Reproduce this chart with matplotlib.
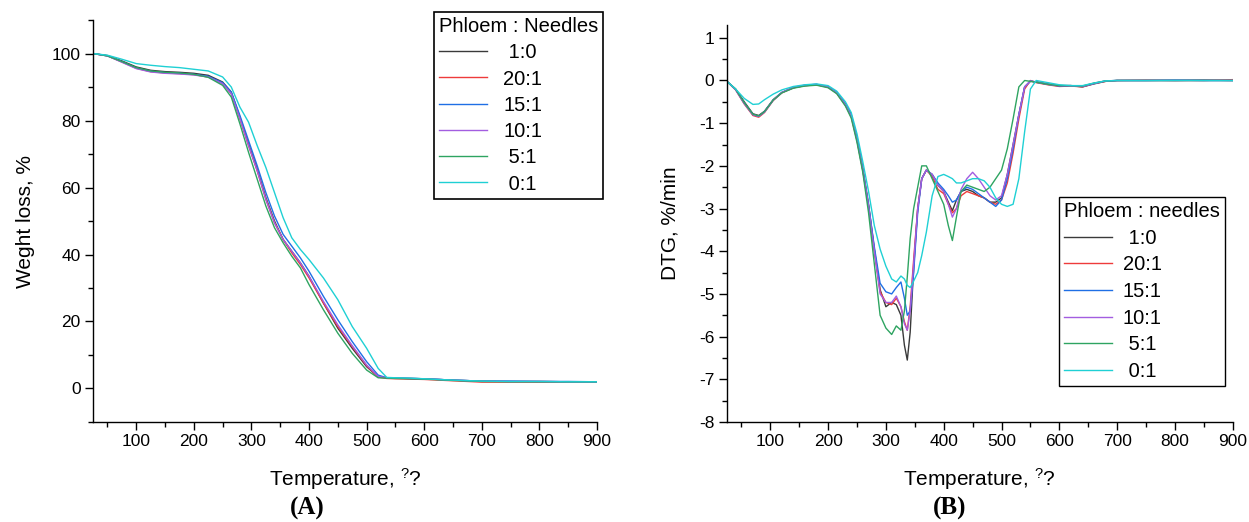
import matplotlib
matplotlib.use('Agg')
import matplotlib.pyplot as plt
from matplotlib.ticker import MultipleLocator

plt.rcParams['font.family'] = ['Liberation Sans', 'DejaVu Sans']
plt.rcParams['mathtext.default'] = 'regular'
plt.rcParams['axes.unicode_minus'] = False

# ---- data ----
labels = ['1:0', '20:1', '15:1', '10:1', '5:1', '0:1']
legend_left = [' 1:0', '20:1', '15:1', '10:1', ' 5:1', ' 0:1']
legend_right = [' 1:0', '20:1', '15:1', '10:1', ' 5:1', ' 0:1']
colors = ['#3a3a3a', '#ee3b3b', '#1f6fe5', '#a35de0', '#2ea461', '#1fd0d4']

# TG, weight %
tg_temp = [25, 50, 75, 100, 125, 150, 175, 200, 225, 250, 265, 280, 295, 310,
           325, 340, 355, 370, 385, 400, 425, 450, 475, 500, 520, 535, 550,
           575, 600, 650, 700, 750, 800, 850, 900]
tg_1_0 = [100, 99.4, 97.8, 96.0, 95.0, 94.6, 94.4, 94.1, 93.5, 91.5, 88.5,
          81.0, 73.0, 65.5, 57.0, 50.0, 44.5, 41.0, 37.5, 33.5, 25.5, 18.0,
          12.0, 6.5, 3.5, 3.2, 3.1, 3.0, 2.9, 2.5, 2.2, 2.1, 2.1, 2.0, 2.0]
tg_20_1 = [100, 99.3, 97.5, 95.6, 94.6, 94.2, 94.0, 93.7, 93.0, 91.0, 88.0,
           80.5, 72.5, 65.0, 56.5, 49.5, 44.5, 40.5, 37.0, 33.0, 25.5, 18.5,
           12.5, 6.8, 3.4, 3.0, 2.9, 2.8, 2.7, 2.3, 1.9, 1.9, 1.9, 1.9, 1.9]
tg_15_1 = [100, 99.3, 97.6, 95.7, 94.7, 94.3, 94.1, 93.8, 93.2, 91.3, 88.5,
           81.5, 74.0, 66.5, 58.5, 51.5, 46.0, 42.5, 39.0, 35.0, 27.5, 20.5,
           14.0, 8.0, 4.0, 3.2, 3.1, 3.0, 2.9, 2.5, 2.2, 2.2, 2.1, 2.1, 2.0]
tg_10_1 = [100, 99.3, 97.4, 95.5, 94.5, 94.1, 93.9, 93.6, 93.0, 91.0, 88.0,
           80.5, 72.5, 65.0, 56.5, 49.5, 44.5, 41.0, 37.5, 33.5, 26.0, 19.0,
           12.8, 7.0, 3.6, 3.2, 3.1, 3.0, 2.9, 2.5, 2.2, 2.1, 2.1, 2.0, 2.0]
tg_5_1 = [100, 99.3, 97.6, 95.8, 94.8, 94.4, 94.2, 93.8, 92.9, 90.5, 87.0,
          79.0, 70.5, 62.5, 54.5, 48.0, 43.5, 39.5, 36.0, 31.0, 23.5, 16.5,
          10.5, 5.5, 3.2, 3.1, 3.0, 2.9, 2.8, 2.4, 2.1, 2.0, 2.0, 2.0, 2.0]
tg_0_1 = [100, 99.5, 98.3, 97.0, 96.5, 96.1, 95.8, 95.3, 94.8, 93.0, 90.0,
          84.0, 79.5, 72.5, 66.0, 58.5, 51.0, 45.0, 41.5, 38.5, 33.0, 26.5,
          18.5, 12.0, 6.0, 3.3, 3.2, 3.1, 2.9, 2.5, 2.2, 2.1, 2.1, 2.0, 2.0]

# DTG, %/min
dtg_temp = [25, 40, 55, 70, 80, 90, 105, 120, 140, 160, 180, 200, 215, 230,
            240, 250, 260, 270, 280, 290, 300, 310, 318, 326, 332, 337, 342,
            348, 355, 362, 370, 380, 390, 400, 408, 415, 422, 430, 440, 450,
            460, 470, 480, 490, 500, 510, 520, 530, 540, 550, 560, 580, 600,
            620, 640, 660, 680, 700, 750, 800, 850, 900]
dtg_1_0 = [-0.02, -0.2, -0.5, -0.78, -0.82, -0.72, -0.45, -0.28, -0.17, -0.12,
           -0.1, -0.15, -0.28, -0.55, -0.8, -1.35, -2.05, -2.9, -3.95, -4.9,
           -5.3, -5.2, -5.25, -5.5, -6.2, -6.55, -5.9, -4.4, -3.0, -2.3, -2.1,
           -2.2, -2.45, -2.6, -2.85, -3.05, -2.8, -2.6, -2.55, -2.6, -2.7,
           -2.75, -2.85, -2.85, -2.75, -2.2, -1.5, -0.8, -0.15, -0.02, -0.03,
           -0.08, -0.12, -0.12, -0.15, -0.08, -0.02, 0.0, 0.0, 0.0, 0.01, 0.0]
dtg_20_1 = [-0.02, -0.22, -0.55, -0.82, -0.86, -0.75, -0.47, -0.29, -0.17,
            -0.12, -0.1, -0.16, -0.3, -0.58, -0.85, -1.4, -2.1, -2.95, -4.0,
            -4.95, -5.2, -5.25, -5.1, -5.3, -5.65, -5.85, -5.3, -4.2, -3.0,
            -2.3, -2.1, -2.25, -2.55, -2.65, -2.9, -3.1, -3.0, -2.7, -2.6,
            -2.65, -2.7, -2.75, -2.85, -2.9, -2.8, -2.4, -1.7, -0.9, -0.2,
            0.0, -0.05, -0.1, -0.14, -0.13, -0.15, -0.07, -0.02, 0.0, 0.01,
            0.0, 0.0, 0.02]
dtg_15_1 = [-0.02, -0.21, -0.53, -0.8, -0.84, -0.73, -0.46, -0.28, -0.16,
            -0.11, -0.09, -0.15, -0.28, -0.56, -0.82, -1.38, -2.08, -2.92,
            -3.9, -4.75, -4.95, -5.0, -4.85, -4.72, -5.1, -5.5, -5.4, -4.5,
            -3.1, -2.3, -2.1, -2.2, -2.4, -2.55, -2.7, -2.85, -2.8, -2.6, -2.5,
            -2.55, -2.65, -2.75, -2.85, -2.95, -2.8, -2.3, -1.6, -0.8, -0.15,
            -0.01, -0.04, -0.09, -0.13, -0.12, -0.14, -0.07, -0.01, 0.0, 0.0,
            0.01, 0.0, 0.0]
dtg_10_1 = [-0.02, -0.21, -0.54, -0.8, -0.84, -0.74, -0.46, -0.28, -0.16,
            -0.11, -0.09, -0.15, -0.29, -0.57, -0.83, -1.4, -2.1, -2.95, -4.0,
            -5.0, -5.2, -5.2, -5.05, -5.3, -5.7, -5.85, -5.4, -4.3, -3.0, -2.3,
            -2.1, -2.2, -2.45, -2.6, -2.9, -3.2, -3.0, -2.55, -2.3, -2.15,
            -2.3, -2.5, -2.7, -2.8, -2.7, -2.2, -1.5, -0.8, -0.15, -0.01,
            -0.04, -0.09, -0.12, -0.12, -0.14, -0.07, -0.01, 0.0, 0.0, 0.0,
            0.0, 0.0]
dtg_5_1 = [-0.02, -0.2, -0.52, -0.79, -0.83, -0.73, -0.46, -0.29, -0.18,
           -0.13, -0.11, -0.17, -0.31, -0.6, -0.88, -1.45, -2.15, -3.1, -4.3,
           -5.5, -5.8, -5.95, -5.75, -5.85, -5.4, -4.6, -3.7, -3.0, -2.5, -2.0,
           -2.0, -2.3, -2.6, -2.9, -3.4, -3.75, -3.2, -2.6, -2.45, -2.5, -2.55,
           -2.6, -2.5, -2.3, -2.1, -1.6, -0.9, -0.15, 0.0, -0.02, -0.04, -0.09,
           -0.12, -0.12, -0.13, -0.06, -0.01, 0.0, 0.0, 0.0, 0.0, 0.0]
dtg_0_1 = [-0.02, -0.2, -0.42, -0.56, -0.55, -0.45, -0.32, -0.22, -0.14,
           -0.1, -0.08, -0.12, -0.25, -0.5, -0.75, -1.25, -1.9, -2.6, -3.4,
           -3.95, -4.35, -4.65, -4.72, -4.58, -4.65, -4.8, -4.85, -4.7, -4.5,
           -4.1, -3.55, -2.7, -2.25, -2.2, -2.25, -2.3, -2.4, -2.4, -2.35,
           -2.3, -2.3, -2.35, -2.5, -2.75, -2.9, -2.95, -2.9, -2.3, -1.2, -0.2,
           0.0, -0.05, -0.1, -0.12, -0.12, -0.06, -0.01, 0.0, 0.0, 0.0, 0.0,
           0.0]

tg_series = [tg_1_0, tg_20_1, tg_15_1, tg_10_1, tg_5_1, tg_0_1]
dtg_series = [dtg_1_0, dtg_20_1, dtg_15_1, dtg_10_1, dtg_5_1, dtg_0_1]

fig = plt.figure(figsize=(12.49, 5.22), dpi=100)
ax1 = fig.add_axes([0.0745, 0.1916, 0.4035, 0.770])
ax2 = fig.add_axes([0.582, 0.1916, 0.405, 0.7605])

for i in range(len(labels)):
    ax1.plot(tg_temp, tg_series[i], color=colors[i], lw=1.0,
             label=legend_left[i])
    ax2.plot(dtg_temp, dtg_series[i], color=colors[i], lw=1.0,
             label=legend_right[i])


def style_axis(ax):
    for side in ['top', 'right']:
        ax.spines[side].set_visible(False)
    for side in ['left', 'bottom']:
        ax.spines[side].set_linewidth(1.0)
    ax.tick_params(which='major', direction='out', length=6, width=1.0,
                   labelsize=12.5, pad=3)
    ax.tick_params(which='minor', direction='out', length=3.5, width=1.0)
    ax.set_xlim(25, 900)
    ax.xaxis.set_minor_locator(MultipleLocator(50))
    ax.set_xticks(range(100, 1000, 100))
    ax.set_xlabel('Temperature, $^{?}$?', fontsize=15, labelpad=12)


style_axis(ax1)
ax1.set_ylim(-10, 110)
ax1.set_yticks(range(0, 101, 20))
ax1.yaxis.set_minor_locator(MultipleLocator(10))
ax1.set_ylabel('Weght loss, %', fontsize=15, labelpad=12)

style_axis(ax2)
ax2.set_ylim(-8, 1.3)
ax2.set_yticks(range(-8, 2))
ax2.yaxis.set_minor_locator(MultipleLocator(0.5))
ax2.set_ylabel('DTG, %/min', fontsize=15, labelpad=14)

leg1 = ax1.legend(title='Phloem : Needles', loc='upper right',
                  bbox_to_anchor=(0.4828, 0.977), bbox_transform=fig.transFigure,
                  fontsize=14.5, title_fontsize=14.5, frameon=True,
                  fancybox=False, framealpha=1, edgecolor='black',
                  borderpad=0.25, labelspacing=0.36, handlelength=2.4,
                  handletextpad=0.8, borderaxespad=0)
leg1._legend_box.align = 'left'
leg1.get_frame().set_linewidth(1.2)

leg2 = ax2.legend(title='Phloem : needles', loc='upper right',
                  bbox_to_anchor=(0.9808, 0.6226), bbox_transform=fig.transFigure,
                  fontsize=14.5, title_fontsize=14.5, frameon=True,
                  fancybox=False, framealpha=1, edgecolor='black',
                  borderpad=0.25, labelspacing=0.38, handlelength=2.4,
                  handletextpad=0.5, borderaxespad=0)
leg2._legend_box.align = 'left'
leg2.get_frame().set_linewidth(1.0)

fig.text(307 / 1249, 1 - 508 / 522, '(A)', ha='center', va='center',
         family='Liberation Serif', fontweight='bold', fontsize=18)
fig.text(950 / 1249, 1 - 508 / 522, '(B)', ha='center', va='center',
         family='Liberation Serif', fontweight='bold', fontsize=18)

fig.savefig('out.png', dpi=100)
